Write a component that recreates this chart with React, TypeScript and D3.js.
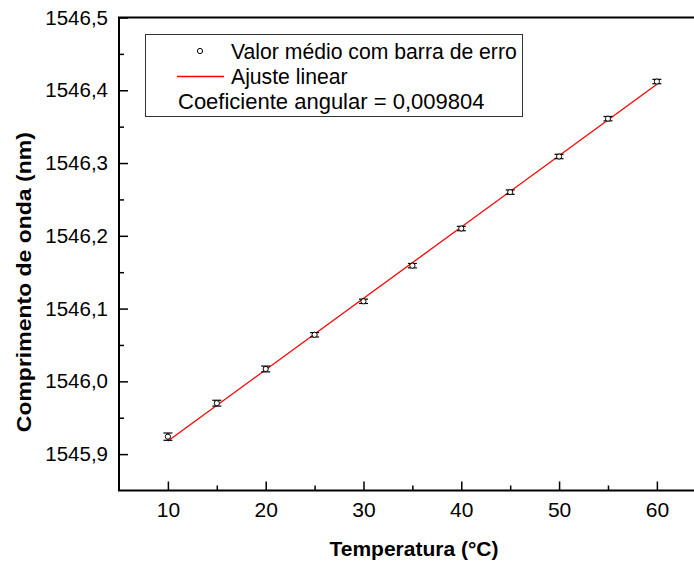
import React, { useRef, useEffect } from 'react'
import * as d3 from 'd3'

// dados
const temperatures = [10, 15, 20, 25, 30, 35, 40, 45, 50, 55, 60]
const wavelengths = [
  1545.924, 1545.970, 1546.017, 1546.064, 1546.110, 1546.159,
  1546.210, 1546.260, 1546.309, 1546.361, 1546.412
]
const errors = [0.005, 0.004, 0.004, 0.003, 0.003, 0.003, 0.003, 0.003, 0.003, 0.003, 0.003]
const fitSlope = 0.009804
const fitIntercept = 1545.8199
const fitRange = [10, 60]

const xTicks = [10, 20, 30, 40, 50, 60]
const xMinorTicks = [15, 25, 35, 45, 55]
const yTicks = [1545.9, 1546.0, 1546.1, 1546.2, 1546.3, 1546.4, 1546.5]
const yMinorTicks = [1545.95, 1546.05, 1546.15, 1546.25, 1546.35, 1546.45]

const legendLabels = ['Valor médio com barra de erro', 'Ajuste linear', 'Coeficiente angular = 0,009804']
const xTitle = 'Temperatura (°C)'
const yTitle = 'Comprimento de onda (nm)'

const W = 694
const H = 563
const FONT = "'Liberation Sans', Arial, Helvetica, sans-serif"

export default function App() {
  const svgRef = useRef<SVGSVGElement>(null)

  useEffect(() => {
    if (!svgRef.current) return
    const svg = d3.select(svgRef.current)
    svg.selectAll('*').remove()

    const left = 119
    const top = 17.5
    const bottom = 490.5

    const x = d3.scaleLinear().domain([5, 64]).range([left, 696])
    const y = d3.scaleLinear().domain([1545.85, 1546.5]).range([bottom, top])
    const fmt = (d: d3.NumberValue) => d3.format('.1f')(d as number).replace('.', ',')

    // eixo X
    const gx = svg.append('g').attr('transform', `translate(0,${bottom})`)
    gx.call(d3.axisBottom(x).tickValues(xTicks).tickSizeInner(-9).tickSizeOuter(0).tickPadding(12).tickFormat(d => String(d)))
    gx.select('.domain').remove()
    gx.selectAll('line').attr('stroke', '#000').attr('stroke-width', 1.5)
    gx.selectAll('text').attr('font-family', FONT).attr('font-size', 21).attr('fill', '#000')

    const gxm = svg.append('g').attr('transform', `translate(0,${bottom})`)
    gxm.call(d3.axisBottom(x).tickValues(xMinorTicks).tickSizeInner(-5).tickSizeOuter(0).tickFormat(() => ''))
    gxm.select('.domain').remove()
    gxm.selectAll('line').attr('stroke', '#000').attr('stroke-width', 1.5)

    // eixo Y
    const gy = svg.append('g').attr('transform', `translate(${left},0)`)
    gy.call(d3.axisLeft(y).tickValues(yTicks).tickSizeInner(-9).tickSizeOuter(0).tickPadding(11).tickFormat(fmt))
    gy.select('.domain').remove()
    gy.selectAll('line').attr('stroke', '#000').attr('stroke-width', 1.5)
    gy.selectAll('text').attr('font-family', FONT).attr('font-size', 20.5).attr('fill', '#000')

    const gym = svg.append('g').attr('transform', `translate(${left},0)`)
    gym.call(d3.axisLeft(y).tickValues(yMinorTicks).tickSizeInner(-5).tickSizeOuter(0).tickFormat(() => ''))
    gym.select('.domain').remove()
    gym.selectAll('line').attr('stroke', '#000').attr('stroke-width', 1.5)

    // moldura
    svg.append('path')
      .attr('d', `M${x(64)},${top}H${left}V${bottom}H${x(64)}`)
      .attr('fill', 'none')
      .attr('stroke', '#000')
      .attr('stroke-width', 2)

    // títulos
    svg.append('text')
      .attr('x', 414)
      .attr('y', 556)
      .attr('text-anchor', 'middle')
      .attr('font-family', FONT)
      .attr('font-weight', 'bold')
      .attr('font-size', 21)
      .text(xTitle)

    svg.append('text')
      .attr('transform', `translate(31,${y(1546.15) + 10}) rotate(-90)`)
      .attr('text-anchor', 'middle')
      .attr('font-family', FONT)
      .attr('font-weight', 'bold')
      .attr('font-size', 21)
      .attr('textLength', 300)
      .attr('lengthAdjust', 'spacingAndGlyphs')
      .text(yTitle)

    // ajuste linear
    const fitLine = d3.line<number>()
      .x(t => x(t))
      .y(t => y(fitIntercept + fitSlope * t))
    svg.append('path')
      .datum(fitRange)
      .attr('d', fitLine)
      .attr('fill', 'none')
      .attr('stroke', '#ff0000')
      .attr('stroke-width', 1.3)

    // barras de erro
    const pts = temperatures.map((t, i) => ({ t, v: wavelengths[i], e: errors[i] }))
    const eb = svg.append('g').attr('stroke', '#000').attr('stroke-width', 1.2)
    pts.forEach(p => {
      const cx = x(p.t)
      eb.append('line').attr('x1', cx).attr('x2', cx).attr('y1', y(p.v - p.e)).attr('y2', y(p.v + p.e))
      eb.append('line').attr('x1', cx - 4.5).attr('x2', cx + 4.5).attr('y1', y(p.v - p.e)).attr('y2', y(p.v - p.e))
      eb.append('line').attr('x1', cx - 4.5).attr('x2', cx + 4.5).attr('y1', y(p.v + p.e)).attr('y2', y(p.v + p.e))
    })

    svg.append('g')
      .selectAll('circle')
      .data(pts)
      .enter()
      .append('circle')
      .attr('cx', d => x(d.t))
      .attr('cy', d => y(d.v))
      .attr('r', 2.6)
      .attr('fill', '#fff')
      .attr('stroke', '#000')
      .attr('stroke-width', 1)

    // legenda
    const lg = svg.append('g')
    lg.append('rect')
      .attr('x', 145.5).attr('y', 34.5)
      .attr('width', 377).attr('height', 82)
      .attr('fill', '#fff')
      .attr('stroke', '#333')
      .attr('stroke-width', 1)
    lg.append('circle').attr('cx', 200).attr('cy', 51).attr('r', 2.6)
      .attr('fill', '#fff').attr('stroke', '#000').attr('stroke-width', 1)
    lg.append('line').attr('x1', 177).attr('x2', 224).attr('y1', 76.5).attr('y2', 76.5)
      .attr('stroke', '#ff0000').attr('stroke-width', 1.3)
    const lx = [231, 231, 178]
    const ly = [58.5, 83.5, 108.5]
    const lf = [21.2, 21.2, 22]
    legendLabels.forEach((s, i) => {
      lg.append('text')
        .attr('x', lx[i]).attr('y', ly[i])
        .attr('font-family', FONT)
        .attr('font-size', lf[i])
        .attr('fill', '#000')
        .text(s)
    })
  }, [])

  return (
    <div style={{ position: 'absolute', left: 0, top: 0 }}>
      <svg ref={svgRef} width={W} height={H} style={{ display: 'block', background: '#fff' }} />
    </div>
  )
}
